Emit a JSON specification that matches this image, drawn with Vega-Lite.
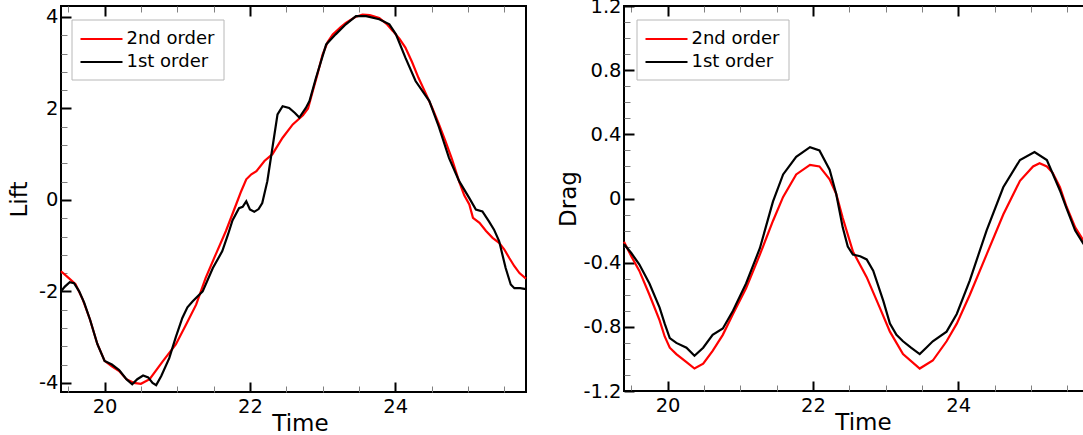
{
  "$schema": "https://vega.github.io/schema/vega-lite/v6.json",
  "padding": {"left": 7, "top": -5, "right": 0, "bottom": 0},
  "background": "white",
  "datasets": {
    "lift": [
      {"series": "2nd order", "t": 19.40, "v": -1.56},
      {"series": "2nd order", "t": 19.50, "v": -1.70},
      {"series": "2nd order", "t": 19.60, "v": -1.84},
      {"series": "2nd order", "t": 19.70, "v": -2.18},
      {"series": "2nd order", "t": 19.80, "v": -2.62},
      {"series": "2nd order", "t": 19.90, "v": -3.15},
      {"series": "2nd order", "t": 20.00, "v": -3.52},
      {"series": "2nd order", "t": 20.10, "v": -3.64},
      {"series": "2nd order", "t": 20.20, "v": -3.74},
      {"series": "2nd order", "t": 20.30, "v": -3.92},
      {"series": "2nd order", "t": 20.40, "v": -4.00},
      {"series": "2nd order", "t": 20.50, "v": -4.02},
      {"series": "2nd order", "t": 20.62, "v": -3.92},
      {"series": "2nd order", "t": 20.80, "v": -3.53},
      {"series": "2nd order", "t": 20.98, "v": -3.16},
      {"series": "2nd order", "t": 21.12, "v": -2.73},
      {"series": "2nd order", "t": 21.26, "v": -2.29},
      {"series": "2nd order", "t": 21.39, "v": -1.71},
      {"series": "2nd order", "t": 21.53, "v": -1.19},
      {"series": "2nd order", "t": 21.67, "v": -0.68},
      {"series": "2nd order", "t": 21.81, "v": -0.10},
      {"series": "2nd order", "t": 21.88, "v": 0.19},
      {"series": "2nd order", "t": 21.95, "v": 0.45},
      {"series": "2nd order", "t": 22.02, "v": 0.56},
      {"series": "2nd order", "t": 22.09, "v": 0.63},
      {"series": "2nd order", "t": 22.20, "v": 0.85},
      {"series": "2nd order", "t": 22.31, "v": 1.00},
      {"series": "2nd order", "t": 22.45, "v": 1.36},
      {"series": "2nd order", "t": 22.59, "v": 1.65},
      {"series": "2nd order", "t": 22.73, "v": 1.85},
      {"series": "2nd order", "t": 22.80, "v": 2.00},
      {"series": "2nd order", "t": 22.86, "v": 2.35},
      {"series": "2nd order", "t": 22.93, "v": 2.75},
      {"series": "2nd order", "t": 23.00, "v": 3.18},
      {"series": "2nd order", "t": 23.07, "v": 3.45},
      {"series": "2nd order", "t": 23.14, "v": 3.62},
      {"series": "2nd order", "t": 23.25, "v": 3.78},
      {"series": "2nd order", "t": 23.32, "v": 3.87},
      {"series": "2nd order", "t": 23.45, "v": 4.00},
      {"series": "2nd order", "t": 23.55, "v": 4.05},
      {"series": "2nd order", "t": 23.65, "v": 4.04},
      {"series": "2nd order", "t": 23.78, "v": 3.98},
      {"series": "2nd order", "t": 23.88, "v": 3.85},
      {"series": "2nd order", "t": 23.97, "v": 3.69},
      {"series": "2nd order", "t": 24.06, "v": 3.52},
      {"series": "2nd order", "t": 24.14, "v": 3.33},
      {"series": "2nd order", "t": 24.23, "v": 3.02},
      {"series": "2nd order", "t": 24.32, "v": 2.67},
      {"series": "2nd order", "t": 24.42, "v": 2.33},
      {"series": "2nd order", "t": 24.51, "v": 2.01},
      {"series": "2nd order", "t": 24.60, "v": 1.66},
      {"series": "2nd order", "t": 24.69, "v": 1.29},
      {"series": "2nd order", "t": 24.78, "v": 0.90},
      {"series": "2nd order", "t": 24.88, "v": 0.40},
      {"series": "2nd order", "t": 24.95, "v": 0.10},
      {"series": "2nd order", "t": 25.02, "v": -0.10},
      {"series": "2nd order", "t": 25.07, "v": -0.39},
      {"series": "2nd order", "t": 25.16, "v": -0.50},
      {"series": "2nd order", "t": 25.25, "v": -0.68},
      {"series": "2nd order", "t": 25.34, "v": -0.83},
      {"series": "2nd order", "t": 25.43, "v": -0.94},
      {"series": "2nd order", "t": 25.50, "v": -1.08},
      {"series": "2nd order", "t": 25.57, "v": -1.27},
      {"series": "2nd order", "t": 25.64, "v": -1.45},
      {"series": "2nd order", "t": 25.71, "v": -1.60},
      {"series": "2nd order", "t": 25.80, "v": -1.72},
      {"series": "1st order", "t": 19.40, "v": -2.00},
      {"series": "1st order", "t": 19.45, "v": -1.90},
      {"series": "1st order", "t": 19.52, "v": -1.80},
      {"series": "1st order", "t": 19.58, "v": -1.82},
      {"series": "1st order", "t": 19.65, "v": -2.00},
      {"series": "1st order", "t": 19.72, "v": -2.25},
      {"series": "1st order", "t": 19.80, "v": -2.62},
      {"series": "1st order", "t": 19.90, "v": -3.15},
      {"series": "1st order", "t": 20.00, "v": -3.52},
      {"series": "1st order", "t": 20.10, "v": -3.60},
      {"series": "1st order", "t": 20.20, "v": -3.72},
      {"series": "1st order", "t": 20.30, "v": -3.92},
      {"series": "1st order", "t": 20.38, "v": -4.03},
      {"series": "1st order", "t": 20.45, "v": -3.92},
      {"series": "1st order", "t": 20.53, "v": -3.84},
      {"series": "1st order", "t": 20.60, "v": -3.88},
      {"series": "1st order", "t": 20.66, "v": -4.00},
      {"series": "1st order", "t": 20.71, "v": -4.05},
      {"series": "1st order", "t": 20.78, "v": -3.85},
      {"series": "1st order", "t": 20.89, "v": -3.46},
      {"series": "1st order", "t": 20.98, "v": -3.00},
      {"series": "1st order", "t": 21.07, "v": -2.58},
      {"series": "1st order", "t": 21.14, "v": -2.35},
      {"series": "1st order", "t": 21.21, "v": -2.22},
      {"series": "1st order", "t": 21.35, "v": -2.00},
      {"series": "1st order", "t": 21.49, "v": -1.49},
      {"series": "1st order", "t": 21.62, "v": -1.12},
      {"series": "1st order", "t": 21.70, "v": -0.75},
      {"series": "1st order", "t": 21.76, "v": -0.45},
      {"series": "1st order", "t": 21.85, "v": -0.18},
      {"series": "1st order", "t": 21.90, "v": -0.15},
      {"series": "1st order", "t": 21.95, "v": -0.03},
      {"series": "1st order", "t": 22.00, "v": -0.21},
      {"series": "1st order", "t": 22.06, "v": -0.26},
      {"series": "1st order", "t": 22.12, "v": -0.20},
      {"series": "1st order", "t": 22.17, "v": -0.07},
      {"series": "1st order", "t": 22.24, "v": 0.41},
      {"series": "1st order", "t": 22.31, "v": 1.14},
      {"series": "1st order", "t": 22.38, "v": 1.87},
      {"series": "1st order", "t": 22.45, "v": 2.05},
      {"series": "1st order", "t": 22.54, "v": 2.01},
      {"series": "1st order", "t": 22.62, "v": 1.90},
      {"series": "1st order", "t": 22.68, "v": 1.80},
      {"series": "1st order", "t": 22.77, "v": 2.01},
      {"series": "1st order", "t": 22.82, "v": 2.16},
      {"series": "1st order", "t": 22.91, "v": 2.67},
      {"series": "1st order", "t": 23.05, "v": 3.40},
      {"series": "1st order", "t": 23.18, "v": 3.62},
      {"series": "1st order", "t": 23.32, "v": 3.84},
      {"series": "1st order", "t": 23.46, "v": 4.02},
      {"series": "1st order", "t": 23.60, "v": 4.02},
      {"series": "1st order", "t": 23.78, "v": 3.95},
      {"series": "1st order", "t": 23.92, "v": 3.84},
      {"series": "1st order", "t": 24.01, "v": 3.62},
      {"series": "1st order", "t": 24.14, "v": 3.11},
      {"series": "1st order", "t": 24.28, "v": 2.60},
      {"series": "1st order", "t": 24.47, "v": 2.16},
      {"series": "1st order", "t": 24.60, "v": 1.60},
      {"series": "1st order", "t": 24.74, "v": 0.92},
      {"series": "1st order", "t": 24.88, "v": 0.41},
      {"series": "1st order", "t": 25.02, "v": 0.04},
      {"series": "1st order", "t": 25.11, "v": -0.21},
      {"series": "1st order", "t": 25.20, "v": -0.25},
      {"series": "1st order", "t": 25.29, "v": -0.47},
      {"series": "1st order", "t": 25.36, "v": -0.65},
      {"series": "1st order", "t": 25.43, "v": -0.90},
      {"series": "1st order", "t": 25.52, "v": -1.49},
      {"series": "1st order", "t": 25.59, "v": -1.85},
      {"series": "1st order", "t": 25.64, "v": -1.93},
      {"series": "1st order", "t": 25.72, "v": -1.93},
      {"series": "1st order", "t": 25.80, "v": -1.95}
    ],
    "drag": [
      {"series": "2nd order", "t": 19.40, "v": -0.27},
      {"series": "2nd order", "t": 19.50, "v": -0.36},
      {"series": "2nd order", "t": 19.61, "v": -0.45},
      {"series": "2nd order", "t": 19.75, "v": -0.60},
      {"series": "2nd order", "t": 19.89, "v": -0.76},
      {"series": "2nd order", "t": 19.96, "v": -0.86},
      {"series": "2nd order", "t": 20.03, "v": -0.93},
      {"series": "2nd order", "t": 20.12, "v": -0.97},
      {"series": "2nd order", "t": 20.26, "v": -1.02},
      {"series": "2nd order", "t": 20.37, "v": -1.06},
      {"series": "2nd order", "t": 20.49, "v": -1.03},
      {"series": "2nd order", "t": 20.62, "v": -0.95},
      {"series": "2nd order", "t": 20.76, "v": -0.85},
      {"series": "2nd order", "t": 20.90, "v": -0.72},
      {"series": "2nd order", "t": 21.08, "v": -0.56},
      {"series": "2nd order", "t": 21.27, "v": -0.35},
      {"series": "2nd order", "t": 21.45, "v": -0.14},
      {"series": "2nd order", "t": 21.59, "v": 0.01},
      {"series": "2nd order", "t": 21.77, "v": 0.15},
      {"series": "2nd order", "t": 21.96, "v": 0.21},
      {"series": "2nd order", "t": 22.09, "v": 0.20},
      {"series": "2nd order", "t": 22.23, "v": 0.12},
      {"series": "2nd order", "t": 22.32, "v": 0.03},
      {"series": "2nd order", "t": 22.41, "v": -0.12},
      {"series": "2nd order", "t": 22.55, "v": -0.33},
      {"series": "2nd order", "t": 22.74, "v": -0.49},
      {"series": "2nd order", "t": 22.92, "v": -0.68},
      {"series": "2nd order", "t": 23.06, "v": -0.83},
      {"series": "2nd order", "t": 23.24, "v": -0.97},
      {"series": "2nd order", "t": 23.47, "v": -1.06},
      {"series": "2nd order", "t": 23.65, "v": -1.01},
      {"series": "2nd order", "t": 23.84, "v": -0.89},
      {"series": "2nd order", "t": 23.98, "v": -0.78},
      {"series": "2nd order", "t": 24.16, "v": -0.60},
      {"series": "2nd order", "t": 24.39, "v": -0.35},
      {"series": "2nd order", "t": 24.62, "v": -0.10},
      {"series": "2nd order", "t": 24.85, "v": 0.11},
      {"series": "2nd order", "t": 25.03, "v": 0.20},
      {"series": "2nd order", "t": 25.12, "v": 0.22},
      {"series": "2nd order", "t": 25.22, "v": 0.20},
      {"series": "2nd order", "t": 25.30, "v": 0.16},
      {"series": "2nd order", "t": 25.40, "v": 0.07},
      {"series": "2nd order", "t": 25.49, "v": -0.05},
      {"series": "2nd order", "t": 25.61, "v": -0.18},
      {"series": "2nd order", "t": 25.72, "v": -0.26},
      {"series": "2nd order", "t": 25.80, "v": -0.31},
      {"series": "1st order", "t": 19.40, "v": -0.285},
      {"series": "1st order", "t": 19.50, "v": -0.34},
      {"series": "1st order", "t": 19.61, "v": -0.41},
      {"series": "1st order", "t": 19.75, "v": -0.53},
      {"series": "1st order", "t": 19.89, "v": -0.68},
      {"series": "1st order", "t": 19.96, "v": -0.78},
      {"series": "1st order", "t": 20.03, "v": -0.87},
      {"series": "1st order", "t": 20.12, "v": -0.90},
      {"series": "1st order", "t": 20.26, "v": -0.93},
      {"series": "1st order", "t": 20.37, "v": -0.98},
      {"series": "1st order", "t": 20.49, "v": -0.93},
      {"series": "1st order", "t": 20.62, "v": -0.85},
      {"series": "1st order", "t": 20.76, "v": -0.81},
      {"series": "1st order", "t": 20.90, "v": -0.70},
      {"series": "1st order", "t": 21.08, "v": -0.53},
      {"series": "1st order", "t": 21.27, "v": -0.31},
      {"series": "1st order", "t": 21.45, "v": -0.02},
      {"series": "1st order", "t": 21.59, "v": 0.15},
      {"series": "1st order", "t": 21.77, "v": 0.26},
      {"series": "1st order", "t": 21.96, "v": 0.32},
      {"series": "1st order", "t": 22.09, "v": 0.30},
      {"series": "1st order", "t": 22.23, "v": 0.18},
      {"series": "1st order", "t": 22.32, "v": 0.03},
      {"series": "1st order", "t": 22.41, "v": -0.18},
      {"series": "1st order", "t": 22.48, "v": -0.30},
      {"series": "1st order", "t": 22.55, "v": -0.35},
      {"series": "1st order", "t": 22.65, "v": -0.36},
      {"series": "1st order", "t": 22.74, "v": -0.38},
      {"series": "1st order", "t": 22.83, "v": -0.45},
      {"series": "1st order", "t": 22.97, "v": -0.64},
      {"series": "1st order", "t": 23.06, "v": -0.78},
      {"series": "1st order", "t": 23.15, "v": -0.85},
      {"series": "1st order", "t": 23.24, "v": -0.89},
      {"series": "1st order", "t": 23.35, "v": -0.93},
      {"series": "1st order", "t": 23.47, "v": -0.97},
      {"series": "1st order", "t": 23.56, "v": -0.93},
      {"series": "1st order", "t": 23.65, "v": -0.89},
      {"series": "1st order", "t": 23.84, "v": -0.83},
      {"series": "1st order", "t": 23.98, "v": -0.72},
      {"series": "1st order", "t": 24.16, "v": -0.51},
      {"series": "1st order", "t": 24.39, "v": -0.20},
      {"series": "1st order", "t": 24.62, "v": 0.07},
      {"series": "1st order", "t": 24.85, "v": 0.24},
      {"series": "1st order", "t": 25.05, "v": 0.29},
      {"series": "1st order", "t": 25.22, "v": 0.24},
      {"series": "1st order", "t": 25.40, "v": 0.05},
      {"series": "1st order", "t": 25.49, "v": -0.06},
      {"series": "1st order", "t": 25.61, "v": -0.20},
      {"series": "1st order", "t": 25.72, "v": -0.28},
      {"series": "1st order", "t": 25.80, "v": -0.33}
    ]
  },
  "hconcat": [
    {
      "width": 465,
      "height": 386,
      "layer": [
        {
          "data": {"name": "lift"},
          "transform": [{"filter": "datum.series === '2nd order'"}],
          "mark": {"type": "line", "strokeWidth": 2.2},
          "encoding": {
            "x": {"field": "t", "type": "quantitative",
              "scale": {"domain": [19.4, 25.8], "nice": false, "zero": false},
              "axis": {"orient": "bottom", "title": "Time", "values": [20, 22, 24],
                "labelExpr": "'' + datum.value",
                "offset": -10, "tickSize": 10, "tickWidth": 2, "tickColor": "#000000",
                "labelPadding": 5, "titlePadding": -3, "titleX": 239}},
            "y": {"field": "v", "type": "quantitative",
              "scale": {"domain": [-4.2, 4.24], "nice": false, "zero": false},
              "axis": {"orient": "left", "title": "Lift", "values": [-4, -2, 0, 2, 4],
                "labelExpr": "'' + datum.value",
                "offset": -10, "tickSize": 10, "tickWidth": 2, "tickColor": "#000000",
                "labelPadding": 3, "titlePadding": 7.5}},
            "color": {"field": "series", "type": "nominal",
              "scale": {"domain": ["2nd order", "1st order"], "range": ["#ff0000", "#000000"]},
              "legend": {"orient": "none", "legendX": 10.5, "legendY": 13.5}}
          }
        },
        {
          "data": {"name": "lift"},
          "transform": [{"filter": "datum.series === '1st order'"}],
          "mark": {"type": "line", "strokeWidth": 2.2},
          "encoding": {
            "x": {"field": "t", "type": "quantitative",
              "scale": {"domain": [19.4, 25.8], "nice": false, "zero": false},
              "axis": {"orient": "top", "title": null, "labels": false, "values": [20, 22, 24],
                "offset": -10, "tickSize": 10, "tickWidth": 2, "tickColor": "#000000"}},
            "y": {"field": "v", "type": "quantitative",
              "scale": {"domain": [-4.2, 4.24], "nice": false, "zero": false},
              "axis": {"orient": "left", "title": null, "labels": false,
                "values": [-3.6, -3.2, -2.8, -2.4, -1.6, -1.2, -0.8, -0.4, 0.4, 0.8, 1.2, 1.6, 2.4, 2.8, 3.2, 3.6],
                "offset": -6, "tickSize": 6, "tickWidth": 1, "tickColor": "#808080"}},
            "color": {"field": "series", "type": "nominal",
              "scale": {"domain": ["2nd order", "1st order"], "range": ["#ff0000", "#000000"]},
              "legend": {"orient": "none", "legendX": 10.5, "legendY": 13.5}}
          }
        },
        {
          "data": {"values": []},
          "mark": {"type": "point"},
          "encoding": {
            "x": {"field": "t", "type": "quantitative",
              "scale": {"domain": [19.4, 25.8], "nice": false, "zero": false},
              "axis": {"orient": "bottom", "title": null, "labels": false,
                "values": [19.5, 20.5, 21, 21.5, 22.5, 23, 23.5, 24.5, 25, 25.5],
                "offset": -6, "tickSize": 6, "tickWidth": 1, "tickColor": "#808080"}},
            "y": {"field": "v", "type": "quantitative",
              "scale": {"domain": [-4.2, 4.24], "nice": false, "zero": false},
              "axis": null}
          }
        },
        {
          "data": {"values": []},
          "mark": {"type": "point"},
          "encoding": {
            "x": {"field": "t", "type": "quantitative",
              "scale": {"domain": [19.4, 25.8], "nice": false, "zero": false},
              "axis": {"orient": "top", "title": null, "labels": false,
                "values": [19.5, 20.5, 21, 21.5, 22.5, 23, 23.5, 24.5, 25, 25.5],
                "offset": -6, "tickSize": 6, "tickWidth": 1, "tickColor": "#808080"}},
            "y": {"field": "v", "type": "quantitative",
              "scale": {"domain": [-4.2, 4.24], "nice": false, "zero": false},
              "axis": null}
          }
        }
      ],
      "resolve": {"axis": {"x": "independent", "y": "independent"}}
    },
    {
      "width": 465,
      "height": 385,
      "layer": [
        {
          "data": {"name": "drag"},
          "transform": [{"filter": "datum.series === '2nd order'"}],
          "mark": {"type": "line", "strokeWidth": 2.2},
          "encoding": {
            "x": {"field": "t", "type": "quantitative",
              "scale": {"domain": [19.4, 25.8], "nice": false, "zero": false},
              "axis": {"orient": "bottom", "title": "Time", "values": [20, 22, 24],
                "labelExpr": "'' + datum.value",
                "offset": -10, "tickSize": 10, "tickWidth": 2, "tickColor": "#000000",
                "labelPadding": 5, "titlePadding": -3, "titleX": 239}},
            "y": {"field": "v", "type": "quantitative",
              "scale": {"domain": [-1.2, 1.2], "nice": false, "zero": false},
              "axis": {"orient": "left", "title": "Drag", "values": [-1.2, -0.8, -0.4, 0, 0.4, 0.8, 1.2],
                "labelExpr": "'' + datum.value",
                "offset": -10, "tickSize": 10, "tickWidth": 2, "tickColor": "#000000",
                "labelPadding": 3, "titlePadding": 2}},
            "color": {"field": "series", "type": "nominal",
              "scale": {"domain": ["2nd order", "1st order"], "range": ["#ff0000", "#000000"]},
              "legend": {"orient": "none", "legendX": 12.5, "legendY": 13.5}}
          }
        },
        {
          "data": {"name": "drag"},
          "transform": [{"filter": "datum.series === '1st order'"}],
          "mark": {"type": "line", "strokeWidth": 2.2},
          "encoding": {
            "x": {"field": "t", "type": "quantitative",
              "scale": {"domain": [19.4, 25.8], "nice": false, "zero": false},
              "axis": {"orient": "top", "title": null, "labels": false, "values": [20, 22, 24],
                "offset": -10, "tickSize": 10, "tickWidth": 2, "tickColor": "#000000"}},
            "y": {"field": "v", "type": "quantitative",
              "scale": {"domain": [-1.2, 1.2], "nice": false, "zero": false},
              "axis": {"orient": "left", "title": null, "labels": false,
                "values": [-1.1, -1, -0.9, -0.7, -0.6, -0.5, -0.3, -0.2, -0.1, 0.1, 0.2, 0.3, 0.5, 0.6, 0.7, 0.9, 1, 1.1],
                "offset": -6, "tickSize": 6, "tickWidth": 1, "tickColor": "#808080"}},
            "color": {"field": "series", "type": "nominal",
              "scale": {"domain": ["2nd order", "1st order"], "range": ["#ff0000", "#000000"]},
              "legend": {"orient": "none", "legendX": 12.5, "legendY": 13.5}}
          }
        },
        {
          "data": {"values": []},
          "mark": {"type": "point"},
          "encoding": {
            "x": {"field": "t", "type": "quantitative",
              "scale": {"domain": [19.4, 25.8], "nice": false, "zero": false},
              "axis": {"orient": "bottom", "title": null, "labels": false,
                "values": [19.5, 20.5, 21, 21.5, 22.5, 23, 23.5, 24.5, 25, 25.5],
                "offset": -6, "tickSize": 6, "tickWidth": 1, "tickColor": "#808080"}},
            "y": {"field": "v", "type": "quantitative",
              "scale": {"domain": [-1.2, 1.2], "nice": false, "zero": false},
              "axis": null}
          }
        },
        {
          "data": {"values": []},
          "mark": {"type": "point"},
          "encoding": {
            "x": {"field": "t", "type": "quantitative",
              "scale": {"domain": [19.4, 25.8], "nice": false, "zero": false},
              "axis": {"orient": "top", "title": null, "labels": false,
                "values": [19.5, 20.5, 21, 21.5, 22.5, 23, 23.5, 24.5, 25, 25.5],
                "offset": -6, "tickSize": 6, "tickWidth": 1, "tickColor": "#808080"}},
            "y": {"field": "v", "type": "quantitative",
              "scale": {"domain": [-1.2, 1.2], "nice": false, "zero": false},
              "axis": null}
          }
        }
      ],
      "resolve": {"axis": {"x": "independent", "y": "independent"}}
    }
  ],
  "spacing": 98,
  "bounds": "flush",
  "resolve": {"scale": {"color": "independent"}, "legend": {"color": "independent"}},
  "config": {
    "view": {"stroke": "#000000", "strokeWidth": 2, "fill": null},
    "axis": {
      "domain": false, "grid": false, "ticks": true, "zindex": 1,
      "labelFont": "DejaVu Sans", "labelFontSize": 19.5, "labelColor": "#000000",
      "titleFont": "DejaVu Sans", "titleFontSize": 23, "titleFontWeight": "normal", "titleColor": "#000000"
    },
    "legend": {
      "title": null,
      "zindex": 2,
      "symbolType": "M-1,0L3,0",
      "symbolSize": 441,
      "symbolStrokeWidth": 2,
      "labelFont": "DejaVu Sans", "labelFontSize": 18, "labelColor": "#000000",
      "labelOffset": 24,
      "padding": 8, "rowPadding": 2,
      "strokeColor": "#b8b8b8", "fillColor": "#ffffff"
    }
  }
}
